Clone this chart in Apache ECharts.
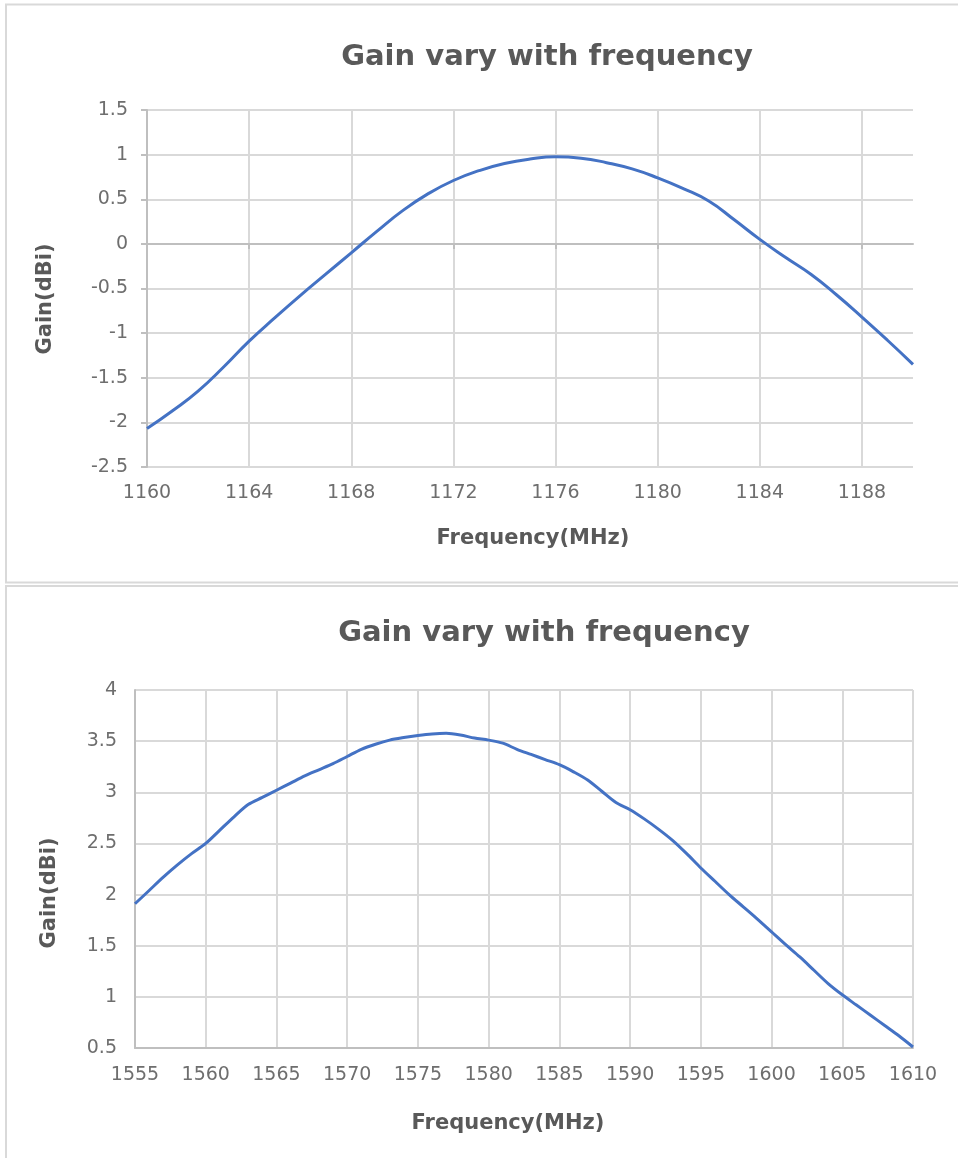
<!DOCTYPE html>
<html>
<head>
<meta charset="utf-8">
<script src="https://cdn.jsdelivr.net/npm/echarts@6/dist/echarts.min.js"></script>
<style>
html,body{margin:0;padding:0;background:#fff;}
#c{width:958px;height:1158px;}
</style>
</head>
<body>
<div id="c"></div>
<script>
// ---- Chart 1: L5/E5a band ----
const freq1 = ['1160','1161','1162','1163','1164','1165','1166','1167','1168','1169','1170','1171','1172','1173','1174','1175','1176','1177','1178','1179','1180','1181','1182','1183','1184','1185','1186','1187','1188','1189','1190'];
const gain1 = [-2.07,-1.87,-1.65,-1.38,-1.09,-0.83,-0.58,-0.34,-0.10,0.14,0.37,0.56,0.71,0.82,0.90,0.95,0.975,0.96,0.91,0.84,0.74,0.62,0.48,0.27,0.05,-0.15,-0.34,-0.57,-0.82,-1.08,-1.35];

// ---- Chart 2: L1 band ----
const freq2 = [1555,1556,1557,1558,1559,1560,1561,1562,1563,1564,1565,1566,1567,1568,1569,1570,1571,1572,1573,1574,1575,1576,1577,1578,1579,1580,1581,1582,1583,1584,1585,1586,1587,1588,1589,1590,1591,1592,1593,1594,1595,1596,1597,1598,1599,1600,1601,1602,1603,1604,1605,1606,1607,1608,1609,1610];
const gain2 = [1.91,2.04,2.17,2.29,2.40,2.50,2.63,2.76,2.88,2.95,3.02,3.09,3.16,3.22,3.28,3.35,3.42,3.47,3.51,3.535,3.555,3.57,3.576,3.56,3.53,3.51,3.48,3.42,3.37,3.32,3.27,3.20,3.12,3.01,2.90,2.83,2.74,2.64,2.53,2.40,2.26,2.13,2.00,1.88,1.76,1.635,1.51,1.39,1.26,1.13,1.02,0.92,0.82,0.72,0.62,0.51];

const chartTitle = 'Gain vary with frequency';
const xTitle = 'Frequency(MHz)';
const yTitle = 'Gain(dBi)';

const GRID = '#d9d9d9', AXIS = '#bfbfbf', LABEL = '#6e6e6e', TITLE = '#595959', LINE = '#4472C4';
const tickFont = 'DejaVu Sans';

const chart = echarts.init(document.getElementById('c'), null, {renderer: 'canvas'});
chart.setOption({
  animation: false,
  backgroundColor: '#fff',
  graphic: [
    {type:'rect', shape:{x:6, y:4.5, width:970, height:578}, style:{fill:'none', stroke:'#d9d9d9', lineWidth:2}, z:-10},
    {type:'rect', shape:{x:6, y:586, width:970, height:600}, style:{fill:'none', stroke:'#d9d9d9', lineWidth:2}, z:-10},
    {type:'text', x:547, y:57, style:{text:chartTitle, font:'bold 29px "DejaVu Sans"', fill:TITLE, align:'center', verticalAlign:'middle'}},
    {type:'text', x:544, y:633, style:{text:chartTitle, font:'bold 29px "DejaVu Sans"', fill:TITLE, align:'center', verticalAlign:'middle'}},
    {type:'text', x:533, y:539, style:{text:xTitle, font:'bold 21px "DejaVu Sans"', fill:TITLE, align:'center', verticalAlign:'middle'}},
    {type:'text', x:508, y:1124, style:{text:xTitle, font:'bold 21px "DejaVu Sans"', fill:TITLE, align:'center', verticalAlign:'middle'}},
    {type:'text', x:46, y:299, rotation:Math.PI/2, style:{text:yTitle, font:'bold 21px "DejaVu Sans"', fill:TITLE, align:'center', verticalAlign:'middle'}},
    {type:'text', x:50, y:893, rotation:Math.PI/2, style:{text:yTitle, font:'bold 21px "DejaVu Sans"', fill:TITLE, align:'center', verticalAlign:'middle'}}
  ],
  grid: [
    {left:147, top:110, width:766, height:357},
    {left:135, top:690, width:778, height:358}
  ],
  xAxis: [
    {gridIndex:0, type:'category', data:freq1, boundaryGap:false, position:'bottom',
     axisLine:{show:false, onZero:false}, axisTick:{show:false},
     axisLabel:{interval:3, margin:17, fontFamily:tickFont, fontSize:19, color:LABEL},
     splitLine:{show:true, interval:3, lineStyle:{color:GRID, width:2}}},
    {gridIndex:0, type:'category', data:freq1, boundaryGap:false, position:'bottom',
     axisLine:{show:true, onZero:true, lineStyle:{color:AXIS, width:2}},
     axisTick:{show:true, interval:3, length:5, lineStyle:{color:AXIS, width:2}},
     axisLabel:{show:false}, splitLine:{show:false}},
    {gridIndex:1, type:'value', min:1555, max:1610, interval:5, position:'bottom',
     axisLine:{show:true, onZero:false, lineStyle:{color:AXIS, width:2}}, axisTick:{show:false},
     axisLabel:{margin:18, fontFamily:tickFont, fontSize:19, color:LABEL, formatter:(v)=>String(v)},
     splitLine:{show:true, lineStyle:{color:GRID, width:2}}}
  ],
  yAxis: [
    {gridIndex:0, type:'value', min:-2.5, max:1.5, interval:0.5,
     axisLine:{show:true, onZero:false, lineStyle:{color:AXIS, width:2}},
     axisTick:{show:true, length:6, lineStyle:{color:AXIS, width:2}},
     axisLabel:{margin:19, fontFamily:tickFont, fontSize:19, color:LABEL},
     splitLine:{show:true, lineStyle:{color:GRID, width:2}}},
    {gridIndex:1, type:'value', min:0.5, max:4, interval:0.5,
     axisLine:{show:true, onZero:false, lineStyle:{color:AXIS, width:2}},
     axisTick:{show:false},
     axisLabel:{margin:18, fontFamily:tickFont, fontSize:19, color:LABEL},
     splitLine:{show:true, lineStyle:{color:GRID, width:2}}}
  ],
  series: [
    {type:'line', xAxisIndex:0, yAxisIndex:0, data:gain1, smooth:true, showSymbol:false,
     lineStyle:{color:LINE, width:3}, z:5},
    {type:'line', xAxisIndex:2, yAxisIndex:1, data:freq2.map((f,i)=>[f,gain2[i]]), smooth:0.3, showSymbol:false,
     lineStyle:{color:LINE, width:3}, z:5}
  ]
});
</script>
</body>
</html>
